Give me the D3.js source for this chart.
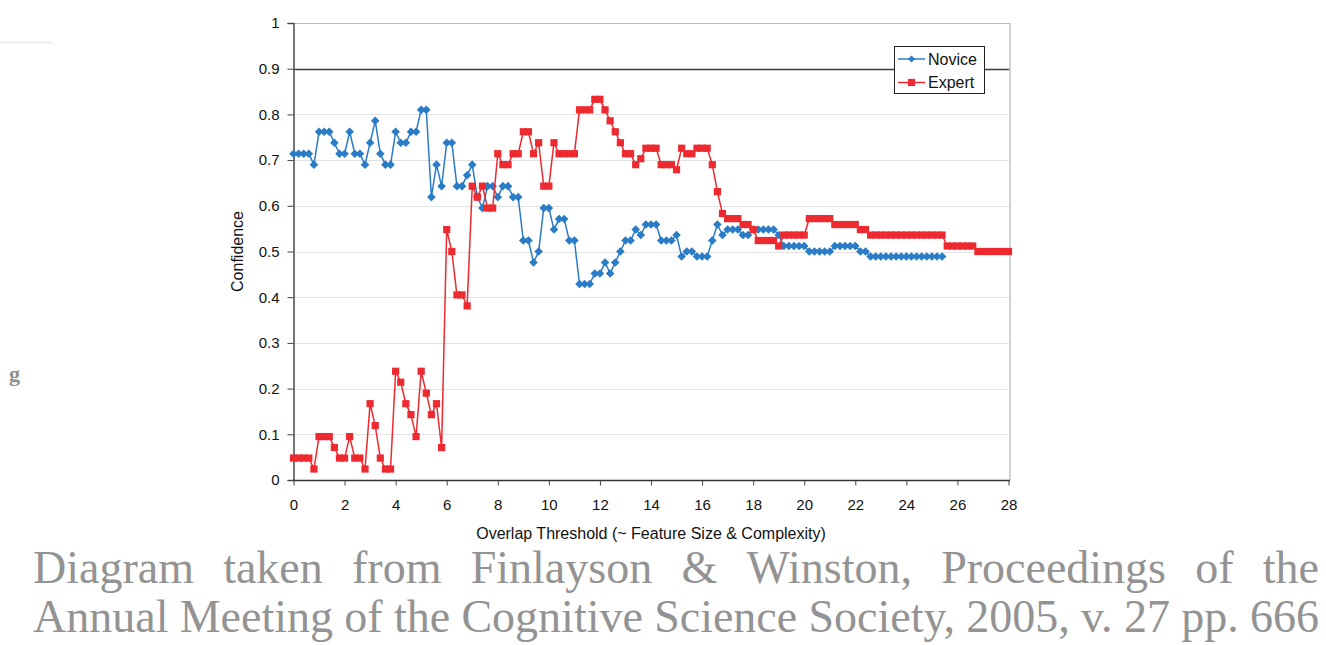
<!DOCTYPE html>
<html>
<head>
<meta charset="utf-8">
<script src="https://cdnjs.cloudflare.com/ajax/libs/d3/7.8.5/d3.min.js"></script>
<style>
  body { margin: 0; background: #fff; }
  svg { display: block; }
</style>
</head>
<body>
<div id="display-container"></div>
<script>
// overlap threshold values (x)
var thresholds = [0,0.2,0.4,0.6,0.8,1,1.2,1.4,1.6,1.8,2,2.2,2.4,2.6,2.8,3,3.2,3.4,3.6,3.8,
  4,4.2,4.4,4.6,4.8,5,5.2,5.4,5.6,5.8,6,6.2,6.4,6.6,6.8,7,7.2,7.4,7.6,7.8,
  8,8.2,8.4,8.6,8.8,9,9.2,9.4,9.6,9.8,10,10.2,10.4,10.6,10.8,11,11.2,11.4,11.6,11.8,
  12,12.2,12.4,12.6,12.8,13,13.2,13.4,13.6,13.8,14,14.2,14.4,14.6,14.8,15,15.2,15.4,15.6,15.8,
  16,16.2,16.4,16.6,16.8,17,17.2,17.4,17.6,17.8,18,18.2,18.4,18.6,18.8,19,19.2,19.4,19.6,19.8,
  20,20.2,20.4,20.6,20.8,21,21.2,21.4,21.6,21.8,22,22.2,22.4,22.6,22.8,23,23.2,23.4,23.6,23.8,
  24,24.2,24.4,24.6,24.8,25,25.2,25.4,25.6,25.8,26,26.2,26.4,26.6,26.8,27,27.2,27.4,27.6,27.8,28];

var novice = [0.714,0.714,0.714,0.714,0.690,0.762,0.762,0.762,0.738,0.714,
  0.714,0.762,0.714,0.714,0.690,0.738,0.786,0.714,0.690,0.690,
  0.762,0.738,0.738,0.762,0.762,0.810,0.810,0.619,0.690,0.643,
  0.738,0.738,0.643,0.643,0.667,0.690,0.619,0.595,0.643,0.643,
  0.619,0.643,0.643,0.619,0.619,0.524,0.524,0.476,0.500,0.595,
  0.595,0.548,0.571,0.571,0.524,0.524,0.429,0.429,0.429,0.452,
  0.452,0.476,0.452,0.476,0.500,0.524,0.524,0.548,0.536,0.559,
  0.559,0.559,0.524,0.524,0.524,0.536,0.489,0.500,0.500,0.489,
  0.489,0.489,0.524,0.559,0.536,0.548,0.548,0.548,0.536,0.536,
  0.548,0.548,0.548,0.548,0.548,0.536,0.512,0.512,0.512,0.512,
  0.512,0.500,0.500,0.500,0.500,0.500,0.512,0.512,0.512,0.512,
  0.512,0.500,0.500,0.489,0.489,0.489,0.489,0.489,0.489,0.489,
  0.489,0.489,0.489,0.489,0.489,0.489,0.489,0.489];

var expert = [0.048,0.048,0.048,0.048,0.024,0.095,0.095,0.095,0.071,0.048,
  0.048,0.095,0.048,0.048,0.024,0.167,0.119,0.048,0.024,0.024,
  0.238,0.214,0.167,0.143,0.095,0.238,0.190,0.143,0.167,0.071,
  0.548,0.500,0.405,0.405,0.381,0.643,0.619,0.643,0.595,0.595,
  0.714,0.690,0.690,0.714,0.714,0.762,0.762,0.714,0.738,0.643,
  0.643,0.738,0.714,0.714,0.714,0.714,0.810,0.810,0.810,0.833,
  0.833,0.810,0.786,0.762,0.738,0.714,0.714,0.690,0.703,0.726,
  0.726,0.726,0.690,0.690,0.690,0.679,0.726,0.714,0.714,0.726,
  0.726,0.726,0.690,0.631,0.583,0.572,0.572,0.572,0.559,0.559,
  0.548,0.524,0.524,0.524,0.524,0.512,0.536,0.536,0.536,0.536,
  0.536,0.572,0.572,0.572,0.572,0.572,0.559,0.559,0.559,0.559,
  0.559,0.548,0.548,0.536,0.536,0.536,0.536,0.536,0.536,0.536,
  0.536,0.536,0.536,0.536,0.536,0.536,0.536,0.536,0.512,0.512,
  0.512,0.512,0.512,0.512,0.500,0.500,0.500,0.500,0.500,0.500,0.500];

var xTicks = [0,2,4,6,8,10,12,14,16,18,20,22,24,26,28];
var yTicks = [0,0.1,0.2,0.3,0.4,0.5,0.6,0.7,0.8,0.9,1];
var yTickLabels = ["0","0.1","0.2","0.3","0.4","0.5","0.6","0.7","0.8","0.9","1"];
var seriesNames = ["Novice", "Expert"];
var captionLines = [
  "Diagram taken from Finlayson & Winston, Proceedings of the",
  "Annual Meeting of the Cognitive Science Society, 2005, v. 27 pp. 666"
];

var width = 1326;
var height = 645;
var blue = "#2a7cc6";
var red = "#ec2a30";
var sans = "'Liberation Sans', Arial, Helvetica, sans-serif";
var serif = "'Liberation Serif', 'Times New Roman', Times, serif";

var svg = d3.select("#display-container").append("svg")
    .attr("width", width)
    .attr("height", height);

var x = d3.scaleLinear().domain([0, 28]).range([293.5, 1008.5]);
var y = d3.scaleLinear().domain([0, 1]).range([480, 23]);

// stray slide remnants
svg.append("line").attr("x1", 0).attr("x2", 52).attr("y1", 42.5).attr("y2", 42.5)
    .style("stroke", "#ececec").style("stroke-width", 2);
svg.append("text").attr("x", 9).attr("y", 381)
    .style("font-family", serif).style("font-weight", "bold")
    .style("font-size", "22px").style("fill", "#8e8e8e").text("g");

// gridlines
svg.append("g").selectAll("line")
    .data(yTicks.slice(1))
    .enter().append("line")
    .attr("x1", x(0)).attr("x2", 1010)
    .attr("y1", function(d){ return Math.round(y(d)) + 0.5; })
    .attr("y2", function(d){ return Math.round(y(d)) + 0.5; })
    .style("stroke", function(d){ return d === 0.9 ? "#3a3a3a" : (d === 1 ? "#b8b8b8" : "#e2e2e2"); })
    .style("stroke-width", function(d){ return d === 0.9 ? 1.3 : 1.2; });

// right border
svg.append("line").attr("x1", 1010).attr("x2", 1010).attr("y1", y(1)).attr("y2", y(0))
    .style("stroke", "#c4c4c4").style("stroke-width", 1.5);

// axes
var yAxis = d3.axisLeft(y).tickValues(yTicks).tickSize(6).tickPadding(8)
    .tickFormat(function(d, i){ return yTickLabels[i]; });
var gy = svg.append("g").attr("transform", "translate(" + x(0) + ",0)").call(yAxis);
gy.select(".domain").style("stroke", "#555").style("stroke-width", 1.6);
gy.selectAll(".tick line").style("stroke", "#444");
gy.selectAll("text").style("font-family", sans).style("font-size", "15px").style("fill", "#111");

var xAxis = d3.axisBottom(x).tickValues(xTicks).tickSize(5).tickPadding(14).tickSizeOuter(0);
var gx = svg.append("g").attr("transform", "translate(0," + (y(0) + 0.5) + ")").call(xAxis);
gx.select(".domain").style("stroke", "#333").style("stroke-width", 1.3).attr("d", "M" + x(0) + ",0H1010");
gx.selectAll(".tick line").style("stroke", "#444");
gx.selectAll("text").style("font-family", sans).style("font-size", "15px").style("fill", "#111");

// axis titles
svg.append("text")
    .attr("transform", "translate(243," + y(0.5) + ") rotate(-90)")
    .style("text-anchor", "middle")
    .style("font-family", sans).style("font-size", "16px").style("fill", "#111")
    .text("Confidence");
svg.append("text")
    .attr("x", 651).attr("y", 539)
    .style("text-anchor", "middle")
    .style("font-family", sans).style("font-size", "16px").style("fill", "#111")
    .text("Overlap Threshold (~ Feature Size & Complexity)");

// series
var line = d3.line()
    .x(function(d){ return x(d[0]); })
    .y(function(d){ return y(d[1]); });

var noviceData = novice.map(function(v, i){ return [thresholds[i], v]; });
var expertData = expert.map(function(v, i){ return [thresholds[i], v]; });

var diamond = "M0,-4.3L4.3,0L0,4.3L-4.3,0Z";

svg.append("path").datum(noviceData)
    .attr("d", line).style("fill", "none").style("stroke", blue).style("stroke-width", 1.5);
svg.append("g").selectAll("path")
    .data(noviceData)
    .enter().append("path")
    .attr("transform", function(d){ return "translate(" + x(d[0]) + "," + y(d[1]) + ")"; })
    .attr("d", diamond)
    .style("fill", blue);

svg.append("path").datum(expertData)
    .attr("d", line).style("fill", "none").style("stroke", red).style("stroke-width", 1.5);
svg.append("g").selectAll("rect")
    .data(expertData)
    .enter().append("rect")
    .attr("x", function(d){ return x(d[0]) - 3.6; })
    .attr("y", function(d){ return y(d[1]) - 3.6; })
    .attr("width", 7.2).attr("height", 7.2)
    .style("fill", red);

// legend
var legend = svg.append("g");
legend.append("rect")
    .attr("x", 894.5).attr("y", 46.5).attr("width", 90).attr("height", 47)
    .style("fill", "#fff").style("stroke", "#222").style("stroke-width", 1);
var legendItems = legend.selectAll(".item")
    .data(seriesNames)
    .enter().append("g")
    .attr("class", "item")
    .attr("transform", function(d, i){ return "translate(898," + (59 + i * 23.5) + ")"; });
legendItems.append("line")
    .attr("x1", 0).attr("x2", 27).attr("y1", 0).attr("y2", 0)
    .style("stroke", function(d, i){ return i === 0 ? blue : red; })
    .style("stroke-width", 1.5);
legendItems.append("path")
    .attr("transform", "translate(13.5,0)")
    .attr("d", function(d, i){ return i === 0 ? "M0,-3.5L3.5,0L0,3.5L-3.5,0Z" : "M-3.6,-3.6h7.2v7.2h-7.2Z"; })
    .style("fill", function(d, i){ return i === 0 ? blue : red; });
legendItems.append("text")
    .attr("x", 30).attr("dy", "0.36em")
    .style("font-family", sans).style("font-size", "16px").style("fill", "#111")
    .text(function(d){ return d; });

// caption, justified word by word
var capLeft = 33, capRight = 1319;
var capBaselines = [583, 632];
captionLines.forEach(function(lineText, li){
    var words = lineText.split(" ");
    var fontSize = 46;
    var g, widths, total, gap;
    while (true) {
        if (g) g.remove();
        g = svg.append("g");
        var texts = g.selectAll("text").data(words).enter().append("text")
            .attr("y", capBaselines[li])
            .style("font-family", serif)
            .style("font-size", fontSize + "px")
            .style("fill", "#939393")
            .text(function(d){ return d; });
        widths = [];
        texts.each(function(){ widths.push(this.getComputedTextLength()); });
        total = d3.sum(widths);
        gap = (capRight - capLeft - total) / (words.length - 1);
        if (gap >= fontSize * 0.22 || fontSize <= 30) break;
        fontSize -= 1;
    }
    var cx = capLeft;
    g.selectAll("text").attr("x", function(d, i){
        var px = cx;
        cx += widths[i] + gap;
        return px;
    });
});
</script>
</body>
</html>
